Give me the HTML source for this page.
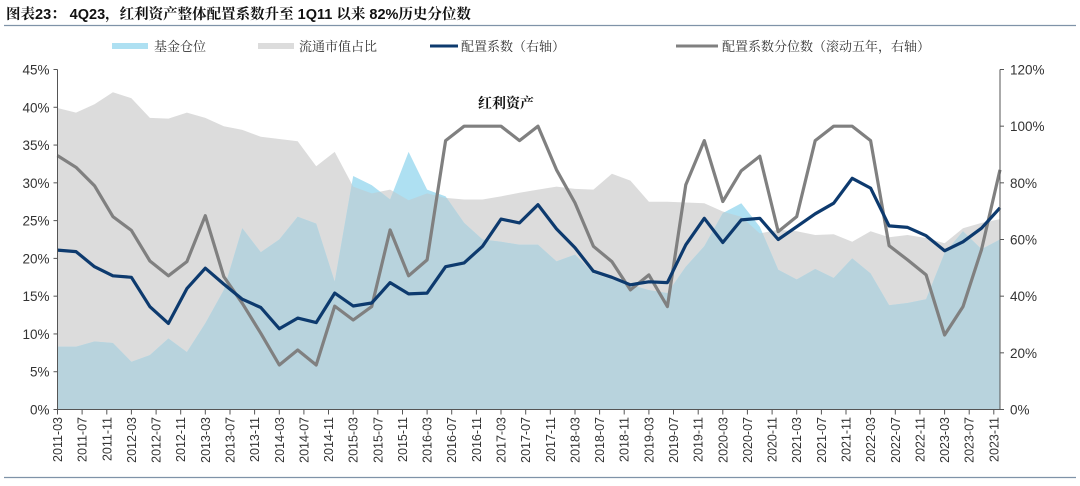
<!DOCTYPE html>
<html><head><meta charset="utf-8">
<style>
html,body{margin:0;padding:0;background:#fff;}
svg text{font-family:"Liberation Sans","Noto Serif CJK SC",serif;}
svg text.ax{font-family:"Liberation Sans",sans-serif;}
</style></head>
<body>
<svg id="c" width="1080" height="481" viewBox="0 0 1080 481" xmlns="http://www.w3.org/2000/svg"></svg>
<script>
const fund=[8.3,8.3,9,8.8,6.3,7.2,9.4,7.6,11.4,15.8,24,20.8,22.5,25.5,24.6,16.9,30.9,29.7,27.8,34.1,29.1,28.2,24.7,22.5,22.2,21.8,21.8,19.6,20.5,18,17.2,16.5,15.8,15.4,18.9,21.6,26,27.3,24.2,18.5,17.2,18.6,17.4,20,18,13.8,14.1,14.6,20.7,23.6,21.2,22.5];
const mkt=[39.9,39.3,40.4,42,41.2,38.6,38.5,39.3,38.6,37.5,37,36.1,35.8,35.5,32.2,34.1,29.5,28.6,29.1,27.7,28.6,28,27.8,27.8,28.2,28.7,29.1,29.5,29.2,29.1,31.2,30.3,27.5,27.5,27.4,27.3,26.2,25.5,23.3,23.8,23.6,23.1,23.2,22.2,23.6,22.8,23.1,22.7,22,24,24.7,25.2];
const coef=[21.1,20.9,18.9,17.7,17.5,13.6,11.4,16,18.7,16.6,14.6,13.5,10.7,12.1,11.5,15.4,13.7,14.1,16.8,15.3,15.4,18.9,19.4,21.6,25.2,24.7,27.1,23.9,21.4,18.3,17.5,16.5,16.9,16.8,21.8,25.3,22.1,25.1,25.3,22.5,24.2,25.9,27.3,30.6,29.3,24.3,24.1,23,21,22.2,24,26.7];
const pct=[89.6,85.5,79,68.1,63.2,52.4,47.2,52.2,68.4,46.9,37.5,26.9,15.7,21,15.7,36.5,31.6,36.3,63.4,47.2,52.8,94.9,100,100,100,94.9,100,84.6,72.9,57.6,52.2,42.2,47.5,36.3,79.3,94.9,73.4,84.3,89.4,62.8,68.1,94.9,100,100,94.9,57.8,52.8,47.5,26.3,36.3,56.4,84.6];
const X0=57.5,X1=1000,Y0=409.5,YT=69.5,N=52;
const dx=(X1-X0)/(N-1);
const xs=i=>X0+i*dx, yl=v=>Y0-(v/45)*(Y0-YT), yr=v=>Y0-(v/120)*(Y0-YT);
function area(arr,col){let d=`M${X0},${Y0}`;arr.forEach((v,i)=>d+=` L${xs(i).toFixed(1)},${yl(v).toFixed(1)}`);d+=` L${X1},${Y0} Z`;return `<path d="${d}" fill="${col}"/>`;}
function minArea(a,b,col){let d=`M${X0},${Y0}`;for(let i=0;i<N;i++){d+=` L${xs(i).toFixed(1)},${yl(Math.min(a[i],b[i])).toFixed(1)}`;if(i<N-1){const da=a[i]-b[i],db=a[i+1]-b[i+1];if(da*db<0){const t=da/(da-db);const v=a[i]+t*(a[i+1]-a[i]);d+=` L${(xs(i)+t*dx).toFixed(1)},${yl(v).toFixed(1)}`;}}}d+=` L${X1},${Y0} Z`;return `<path d="${d}" fill="${col}"/>`;}
function line(arr,f,col){return `<polyline points="${arr.map((v,i)=>xs(i).toFixed(1)+','+f(v).toFixed(1)).join(' ')}" fill="none" stroke="${col}" stroke-width="3.2" stroke-linejoin="round"/>`;}
let s='';
s+=`<text x="6" y="19" font-size="14.5" font-weight="bold" fill="#111">图表23： 4Q23，红利资产整体配置系数升至 1Q11 以来 82%历史分位数</text>`;
s+=`<line x1="4" y1="25.5" x2="1076" y2="25.5" stroke="#7f93a8" stroke-width="1.2"/>`;
s+=`<line x1="4" y1="477.5" x2="1076" y2="477.5" stroke="#7f93a8" stroke-width="1.2"/>`;
s+=`<rect x="112" y="43" width="36" height="6" fill="#aee0f2"/><text x="154" y="51" font-size="13" fill="#333">基金仓位</text>`;
s+=`<rect x="258" y="43" width="36" height="6" fill="#dcdcdc"/><text x="299" y="51" font-size="13" fill="#333">流通市值占比</text>`;
s+=`<line x1="430" y1="46" x2="458" y2="46" stroke="#0d3a6e" stroke-width="3"/><text x="461" y="51" font-size="13" fill="#333">配置系数（右轴）</text>`;
s+=`<line x1="676" y1="46" x2="718" y2="46" stroke="#808080" stroke-width="3"/><text x="722" y="51" font-size="13" fill="#333">配置系数分位数（滚动五年，右轴）</text>`;
s+=area(mkt,'#dcdcdc');
s+=area(fund,'#aee0f2');
s+=minArea(mkt,fund,'#b8d3dd');
s+=line(pct,yr,'#808080');
s+=line(coef,yl,'#0d3a6e');
s+=`<text x="478" y="108" font-size="14" font-weight="bold" fill="#111">红利资产</text>`;
s+=`<line x1="${X0}" y1="${YT}" x2="${X0}" y2="${Y0}" stroke="#555" stroke-width="1"/>`;
s+=`<line x1="${X1}" y1="${YT}" x2="${X1}" y2="${Y0}" stroke="#555" stroke-width="1"/>`;
s+=`<line x1="${X0}" y1="${Y0}" x2="${X1}" y2="${Y0}" stroke="#555" stroke-width="1"/>`;
for(let k=0;k<=9;k++){const y=yl(k*5);s+=`<line x1="${X0-4}" y1="${y}" x2="${X0}" y2="${y}" stroke="#555"/><text class="ax" x="${X0-8}" y="${y+5}" font-size="13.5" text-anchor="end" fill="#333">${k*5}%</text>`;}
for(let k=0;k<=6;k++){const y=yr(k*20);s+=`<line x1="${X1}" y1="${y}" x2="${X1+4}" y2="${y}" stroke="#555"/><text class="ax" x="${X1+10}" y="${y+5}" font-size="13.5" fill="#333">${k*20}%</text>`;}
const mdx=(X1-X0)/153;
for(let m=0;m<=152;m+=4){const x=X0+m*mdx;const yr_=2011+Math.floor((m+2)/12);const mo=((m+2)%12)+1;const lab=yr_+'-'+(mo<10?'0':'')+mo;
s+=`<line x1="${x.toFixed(1)}" y1="${Y0}" x2="${x.toFixed(1)}" y2="${Y0+5}" stroke="#555"/>`;
s+=`<text class="ax" transform="translate(${(x+4.5).toFixed(1)},417) rotate(-90)" font-size="12.5" text-anchor="end" fill="#333">${lab}</text>`;}
document.getElementById('c').innerHTML=s;
</script>
</body></html>
